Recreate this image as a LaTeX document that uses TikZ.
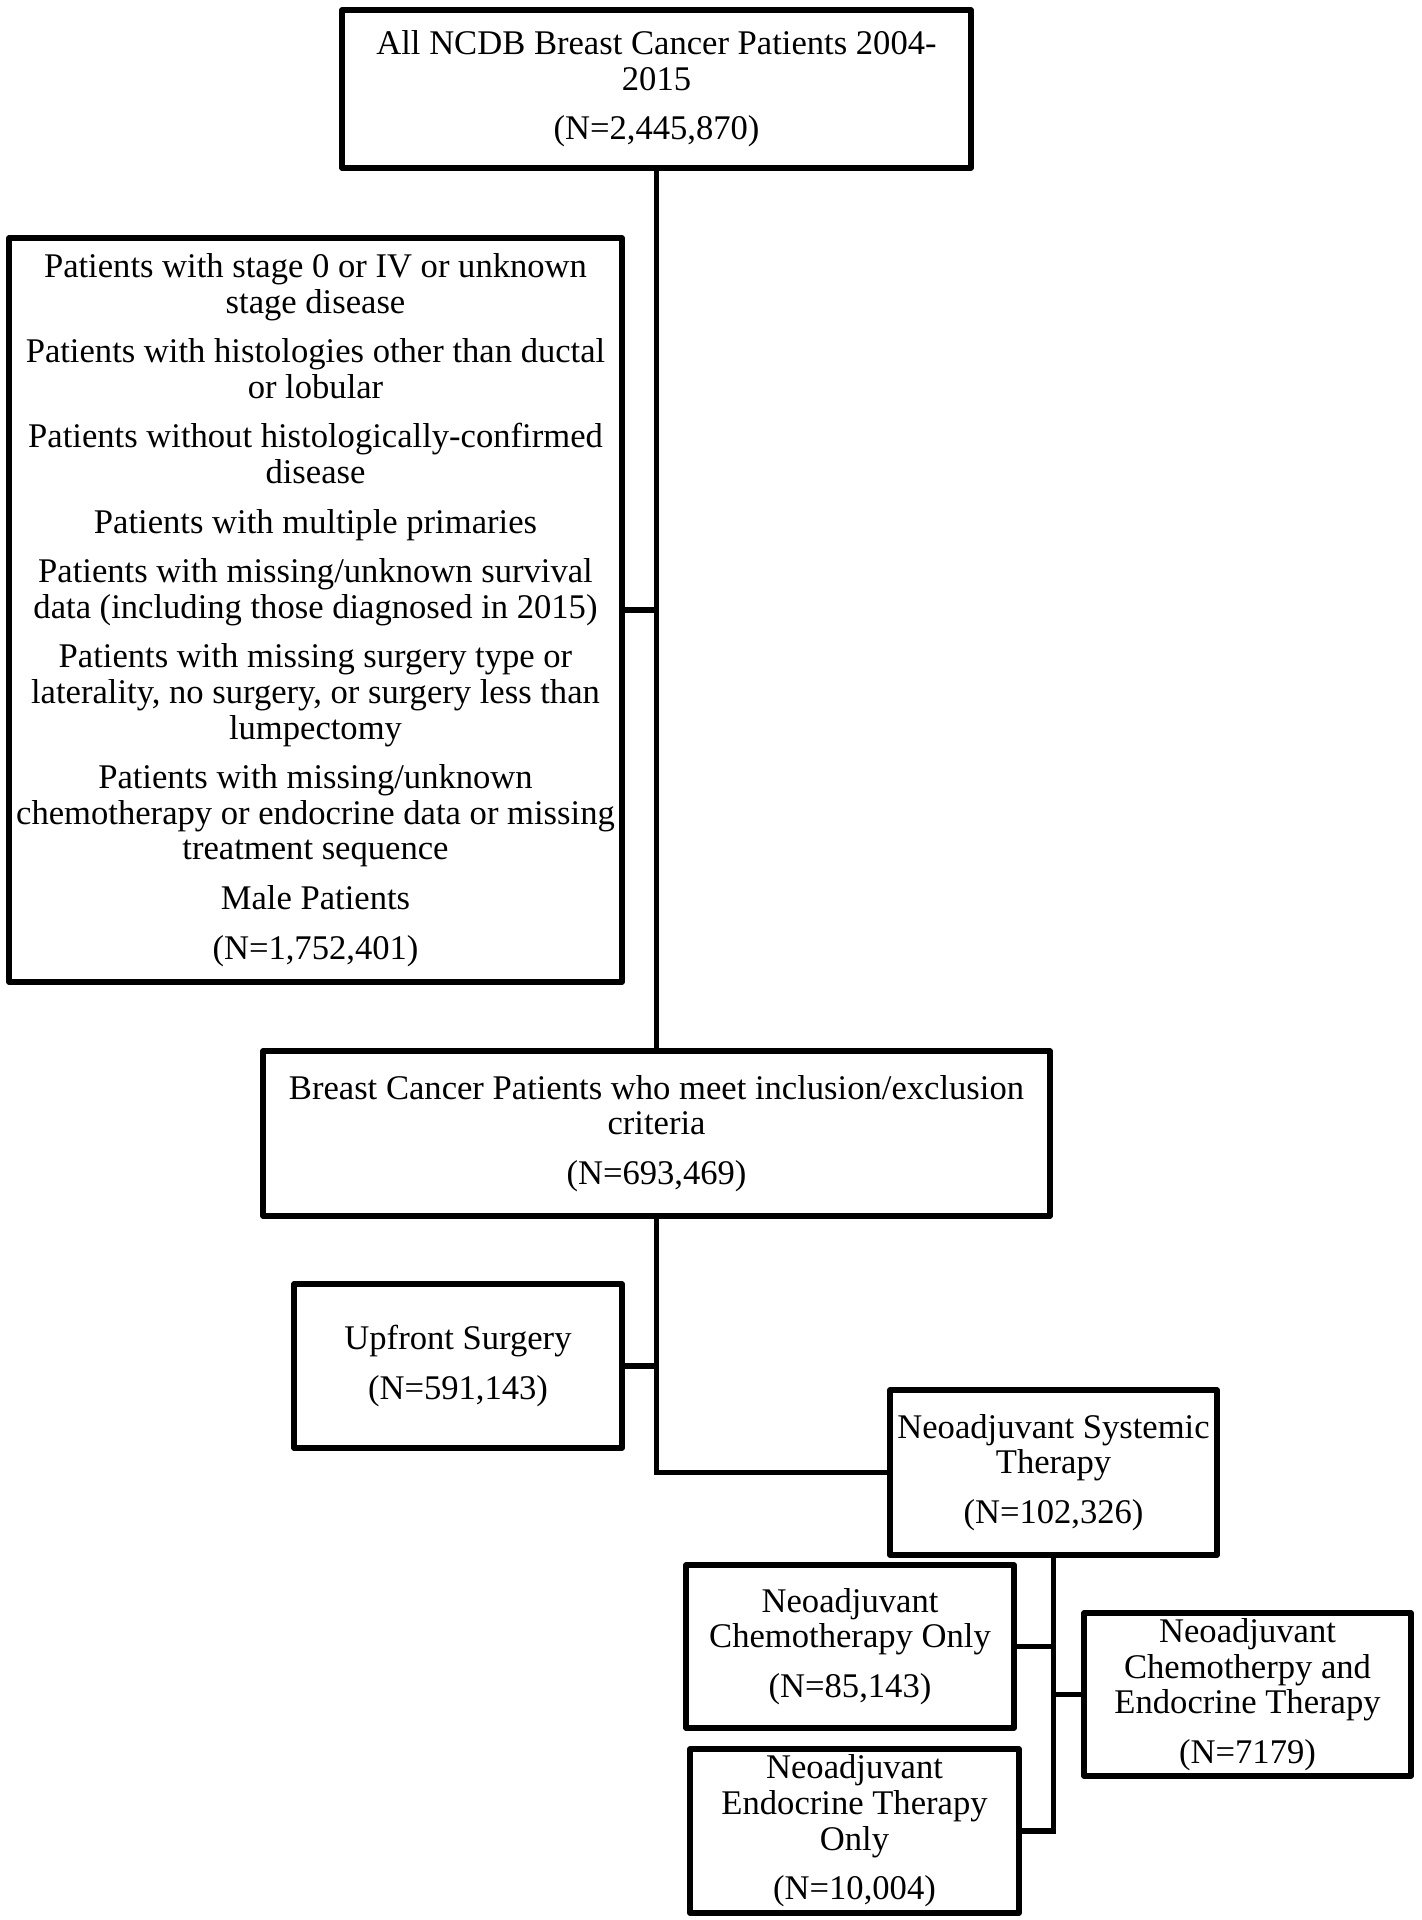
\documentclass[tikz,border=0pt]{standalone}
\usepackage{fontspec}
\setmainfont{Liberation Serif}
\begin{document}
\begin{tikzpicture}[x=0.5pt,y=-0.5pt,
  box/.style={draw, line width=2.7pt, inner sep=0pt, align=center, line join=round,
    font=\fontsize{17.3}{17.8}\selectfont},
  link/.style={line width=2.7pt}]
\useasboundingbox (0,0) rectangle (1422,1920);
\node[box, minimum width=314.5pt, minimum height=79pt] (top) at (656.5,89)
  {All NCDB Breast Cancer Patients 2004-\\2015\\[7pt](N=2,445,870)};
\node[box, minimum width=306.5pt, minimum height=372pt] (excl) at (315.5,610)
  {Patients with stage 0 or IV or unknown\\stage disease\\[7pt]
   Patients with histologies other than ductal\\or lobular\\[7pt]
   Patients without histologically-confirmed\\disease\\[7pt]
   Patients with multiple primaries\\[7pt]
   Patients with missing/unknown survival\\data (including those diagnosed in 2015)\\[7pt]
   Patients with missing surgery type or\\laterality, no surgery, or surgery less than\\lumpectomy\\[7pt]
   Patients with missing/unknown\\chemotherapy or endocrine data or missing\\treatment sequence\\[7pt]
   Male Patients\\[7pt](N=1,752,401)};
\node[box, minimum width=393.5pt, minimum height=82.5pt] (mid) at (656.5,1133.5)
  {Breast Cancer Patients who meet inclusion/exclusion\\criteria\\[7pt](N=693,469)};
\node[box, minimum width=164pt, minimum height=82pt] (up) at (458,1366)
  {Upfront Surgery\\[7pt](N=591,143)};
\node[box, minimum width=163.5pt, minimum height=82.5pt] (nst) at (1053.5,1472.5)
  {Neoadjuvant Systemic\\Therapy\\[7pt](N=102,326)};
\node[box, minimum width=164pt, minimum height=81.5pt] (chemo) at (850,1646.5)
  {Neoadjuvant\\Chemotherapy Only\\[7pt](N=85,143)};
\node[box, minimum width=163.5pt, minimum height=81.5pt] (both) at (1247.5,1694.5)
  {Neoadjuvant\\Chemotherpy and\\Endocrine Therapy\\[7pt](N=7179)};
\node[box, minimum width=164.5pt, minimum height=82pt] (endo) at (854.5,1831)
  {Neoadjuvant\\Endocrine Therapy\\Only\\[7pt](N=10,004)};
\draw[link] (top.south) -- (mid.north);
\draw[link] (excl.east) -- (excl.east -| top.south);
\draw[link] (mid.south) |- (nst.west);
\draw[link] (up.east) -- (up.east -| mid.south);
\draw[link] (nst.south) |- (endo.east);
\draw[link] (chemo.east) -- (chemo.east -| nst.south);
\draw[link] (both.west) -- (both.west -| nst.south);
\end{tikzpicture}
\end{document}
